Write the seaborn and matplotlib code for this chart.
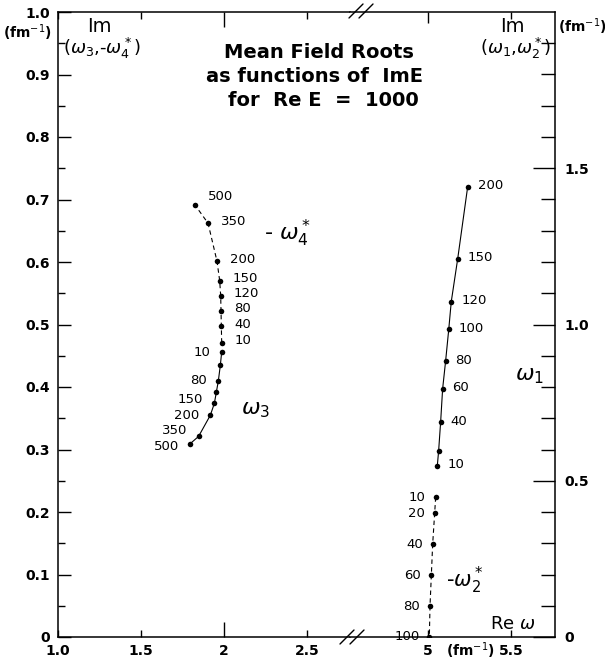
import numpy as np
import pandas as pd
import matplotlib
matplotlib.use('Agg')
import matplotlib.pyplot as plt
from matplotlib.lines import Line2D
import seaborn as sns

# ImE labels and roots
# left panel: Im in units of the left axis (0 - 1.0)
w3_x = [1.986, 1.978, 1.966, 1.954, 1.942, 1.918, 1.847, 1.795]
w3_y = [0.456, 0.435, 0.410, 0.392, 0.374, 0.355, 0.321, 0.309]
w3_lab = ['10', '', '80', '', '150', '200', '350', '500']

w4_x = [1.986, 1.984, 1.982, 1.980, 1.974, 1.958, 1.904, 1.823]
w4_y = [0.471, 0.497, 0.522, 0.546, 0.570, 0.601, 0.662, 0.692]
w4_lab = ['10', '40', '80', '120', '150', '200', '350', '500']

# right panel: Im in units of the right axis (0 - 2.0)
w1_x = [5.056, 5.064, 5.076, 5.088, 5.106, 5.125, 5.140, 5.179, 5.239]
w1_y = [0.548, 0.596, 0.688, 0.794, 0.883, 0.985, 1.073, 1.211, 1.441]
w1_lab = ['10', '', '40', '60', '80', '100', '120', '150', '200']

w2_x = [5.046, 5.040, 5.028, 5.020, 5.012, 5.008]
w2_y = [0.447, 0.396, 0.297, 0.197, 0.099, 0.001]
w2_lab = ['10', '20', '40', '60', '80', '100']

sns.set_style('ticks')
plt.rcParams['font.family'] = ['DejaVu Sans']
plt.rcParams['mathtext.fontset'] = 'dejavusans'
plt.rcParams['text.color'] = 'black'
plt.rcParams['xtick.color'] = 'black'
plt.rcParams['ytick.color'] = 'black'

W, H = 605, 662
fig = plt.figure(figsize=(W / 100, H / 100), dpi=100)

def fx(px):
    return px / W

def fy(py):
    return 1 - py / H

axl = fig.add_axes([fx(58), fy(637), fx(350) - fx(58), fy(12) - fy(637)])
axr = fig.add_axes([fx(350), fy(637), fx(555) - fx(350), fy(12) - fy(637)])

axl.set_xlim(1.0, 2.759)
axl.set_ylim(0, 1.0)
axr.set_xlim(4.530, 5.765)
axr.set_ylim(0, 2.0)

for ax in (axl, axr):
    for s in ax.spines.values():
        s.set_linewidth(1.1)
        s.set_color('black')
axl.spines['right'].set_visible(False)
axr.spines['left'].set_visible(False)

tick_font = dict(fontsize=10, fontweight='bold')

# left axis ticks
axl.set_yticks(np.round(np.arange(0, 1.01, 0.1), 1))
axl.set_yticklabels(['0', '0.1', '0.2', '0.3', '0.4', '0.5', '0.6', '0.7', '0.8', '0.9', '1.0'], **tick_font)
axl.set_yticks(np.arange(0.05, 1.0, 0.1), minor=True)
axl.tick_params(axis='y', which='major', direction='in', length=9, width=1, pad=6, left=True, right=False)
axl.tick_params(axis='y', which='minor', direction='in', length=5, width=1, left=True, right=False)
axl.set_xticks([1.0, 1.5, 2.0, 2.5])
axl.set_xticklabels(['1.0', '1.5', '2', '2.5'], **tick_font)
axl.tick_params(axis='x', which='major', direction='in', length=5, width=1, pad=5, top=True, bottom=True)
t = axl.xaxis.get_major_ticks()[2]
t.tick1line.set_markersize(11)
t.tick2line.set_markersize(11)

# right axis ticks
axr.yaxis.tick_right()
axr.set_yticks([0, 0.5, 1.0, 1.5])
axr.set_yticklabels(['0', '0.5', '1.0', '1.5'], **tick_font)
axr.set_yticks(np.arange(0.1, 2.0, 0.1), minor=True)
axr.tick_params(axis='y', which='major', direction='in', length=16, width=1, pad=7, left=False, right=True)
axr.tick_params(axis='y', which='minor', direction='in', length=10, width=1, left=False, right=True)
axr.set_xticks([5.0, 5.5])
axr.set_xticklabels(['5', '5.5'], **tick_font)
axr.tick_params(axis='x', which='major', direction='in', length=5, width=1, pad=5, top=True, bottom=True)
t = axr.xaxis.get_major_ticks()[0]
t.tick2line.set_markersize(8)

# curves
def draw(ax, xs, ys, dashed):
    df = pd.DataFrame({'x': xs, 'y': ys})
    sns.lineplot(data=df, x='x', y='y', sort=False, estimator=None, ax=ax,
                 color='black', lw=0.8, linestyle=(0, (4, 3)) if dashed else '-')
    sns.scatterplot(data=df, x='x', y='y', ax=ax, color='black', s=16,
                    edgecolor='black', linewidth=0, zorder=5)
    ax.set_xlabel('')
    ax.set_ylabel('')

draw(axl, w3_x, w3_y, False)
draw(axl, w4_x, w4_y, True)
draw(axr, w1_x, w1_y, False)
draw(axr, w2_x, w2_y, True)

def labels(ax, xs, ys, labs, dx, dy, ha, shift=None):
    shift = shift or {}
    for i, (x, y, s) in enumerate(zip(xs, ys, labs)):
        if s:
            ax.annotate(s, (x, y), xytext=(dx, dy + shift.get(i, 0)), textcoords='offset pixels',
                        ha=ha, va='center', fontsize=9.5, color='black')

labels(axl, w4_x, w4_y, w4_lab, 13, 2, 'left', {7: 6})
labels(axl, w3_x, w3_y, w3_lab, -11, 0, 'right', {6: 6, 7: -3, 4: 4})
labels(axr, w1_x, w1_y, w1_lab, 10, 1, 'left')
labels(axr, w2_x, w2_y, w2_lab, -10, 0, 'right')

# titles and axis texts
big = dict(ha='center', va='center', fontsize=14, fontweight='bold')
fig.text(fx(319), fy(53), 'Mean Field Roots', **big)
fig.text(fx(315), fy(77), 'as functions of  ImE', **big)
fig.text(fx(228), fy(101), 'for  Re E  =  1000', ha='left', va='center', fontsize=14, fontweight='bold')

fig.text(fx(99), fy(27), 'Im', ha='center', va='center', fontsize=14)
fig.text(fx(102), fy(48), r'($\omega_3$,-$\omega_4^*$)', ha='center', va='center', fontsize=13)
fig.text(fx(512), fy(27), 'Im', ha='center', va='center', fontsize=14)
fig.text(fx(516), fy(48), r'($\omega_1$,$\omega_2^*$)', ha='center', va='center', fontsize=13)
fig.text(fx(27), fy(33), '(fm$^{-1}$)', ha='center', va='center', fontsize=10, fontweight='bold')
fig.text(fx(582), fy(27), '(fm$^{-1}$)', ha='center', va='center', fontsize=10, fontweight='bold')
fig.text(fx(470), fy(651), '(fm$^{-1}$)', ha='center', va='center', fontsize=10, fontweight='bold')

fig.text(fx(288), fy(233), r'- $\omega_4^*$', ha='center', va='center', fontsize=16)
fig.text(fx(256), fy(410), r'$\omega_3$', ha='center', va='center', fontsize=16)
fig.text(fx(530), fy(376), r'$\omega_1$', ha='center', va='center', fontsize=16)
fig.text(fx(465), fy(580), r'-$\omega_2^*$', ha='center', va='center', fontsize=15)
fig.text(fx(513), fy(624), r'Re $\omega$', ha='center', va='center', fontsize=13)

# axis break marks
for cx, cy in [(352, 637), (361, 11)]:
    for off in (-5, 5):
        fig.add_artist(Line2D([fx(cx + off - 7), fx(cx + off + 7)], [fy(cy + 7), fy(cy - 7)],
                              color='black', lw=1.0))

fig.savefig('out.png', dpi=100, facecolor='white')
